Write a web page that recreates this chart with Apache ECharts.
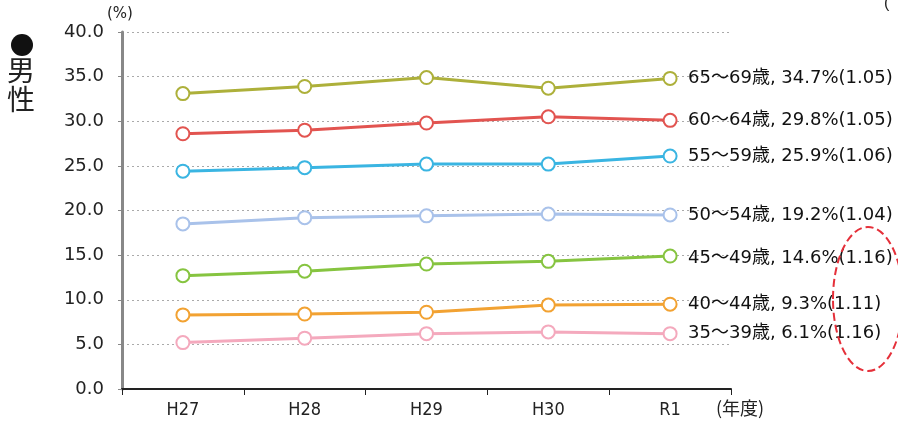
<!DOCTYPE html>
<html>
<head>
<meta charset="utf-8">
<script src="https://cdn.jsdelivr.net/npm/echarts@6/dist/echarts.min.js"></script>
<style>
html, body { margin: 0; padding: 0; background: #fff; }
#main { width: 898px; height: 428px; }
</style>
</head>
<body>
<div id="main"></div>
<script>
// 年度
var years = ['H27', 'H28', 'H29', 'H30', 'R1'];
var yTicks = [0, 5, 10, 15, 20, 25, 30, 35, 40];

// 年齢階級別の値 (%)
var age65 = [33.1, 33.9, 34.9, 33.7, 34.8];
var age60 = [28.6, 29.0, 29.8, 30.5, 30.1];
var age55 = [24.4, 24.8, 25.2, 25.2, 26.1];
var age50 = [18.5, 19.2, 19.4, 19.6, 19.5];
var age45 = [12.7, 13.2, 14.0, 14.3, 14.9];
var age40 = [8.3, 8.4, 8.6, 9.4, 9.5];
var age35 = [5.2, 5.7, 6.2, 6.4, 6.2];

// 右側のラベル
var endLabels = [
	'65～69歳, 34.7%(1.05)',
	'60～64歳, 29.8%(1.05)',
	'55～59歳, 25.9%(1.06)',
	'50～54歳, 19.2%(1.04)',
	'45～49歳, 14.6%(1.16)',
	'40～44歳, 9.3%(1.11)',
	'35～39歳, 6.1%(1.16)'
];

var myChart = echarts.init(document.getElementById('main'));

function makeSeries(name, data, color, labelText, offsetY) {
	return {
		name: name,
		type: 'line',
		data: data,
		symbol: 'circle',
		symbolSize: 13,
		lineStyle: { color: color, width: 3 },
		itemStyle: { color: '#fff', borderColor: color, borderWidth: 2 },
		label: { show: false },
		endLabel: {
			show: true,
			formatter: labelText,
			color: '#111',
			fontSize: 18,
			fontFamily: 'DejaVu Sans, Noto Sans CJK JP',
			distance: 18,
			offset: [0, offsetY]
		},
		animation: false,
		z: 3
	};
}

var option = {
	backgroundColor: '#fff',
	animation: false,
	grid: { left: 122, right: 167, top: 32, bottom: 39 },
	xAxis: {
		type: 'category',
		data: years,
		boundaryGap: true,
		axisLine: { lineStyle: { color: '#222', width: 2 } },
		axisTick: { show: true, inside: false, length: 6, lineStyle: { color: '#222' } },
		axisLabel: { color: '#222', fontSize: 18, fontFamily: 'DejaVu Sans Condensed, Liberation Sans', margin: 12 },
		splitLine: { show: false }
	},
	yAxis: {
		type: 'value',
		min: yTicks[0],
		max: yTicks[yTicks.length - 1],
		interval: 5,
		axisLine: { show: true, lineStyle: { color: '#888', width: 3 } },
		axisTick: { show: true, length: 4, lineStyle: { color: '#888' } },
		axisLabel: {
			color: '#222',
			fontSize: 18,
			fontFamily: 'DejaVu Sans',
			margin: 18,
			formatter: function(v) { return v.toFixed(1); }
		},
		splitLine: { show: true, lineStyle: { color: '#aaa', type: [2, 3], width: 1 } }
	},
	series: [
		makeSeries('65～69歳', age65, '#adb03a', endLabels[0], 0),
		makeSeries('60～64歳', age60, '#e25450', endLabels[1], 0),
		makeSeries('55～59歳', age55, '#3ab5e2', endLabels[2], 0),
		makeSeries('50～54歳', age50, '#a9c2ea', endLabels[3], 0),
		makeSeries('45～49歳', age45, '#86c440', endLabels[4], 2),
		makeSeries('40～44歳', age40, '#f2a232', endLabels[5], 0),
		makeSeries('35～39歳', age35, '#f4a9bd', endLabels[6], 0)
	],
	graphic: [
		{ type: 'text', left: 107, top: 7, style: { text: '(%)', fontSize: 15, fill: '#222', fontFamily: 'DejaVu Sans' } },
		{ type: 'text', left: 716, top: 399, style: { text: '(年度)', fontSize: 18, fill: '#222', fontFamily: 'Noto Sans CJK JP' } },
		{ type: 'circle', shape: { cx: 22, cy: 45, r: 11 }, style: { fill: '#111' } },
		{ type: 'text', left: 7, top: 56, style: { text: '男', fontSize: 28, fill: '#222', fontFamily: 'Noto Sans CJK JP' } },
		{ type: 'text', left: 7, top: 85, style: { text: '性', fontSize: 28, fill: '#222', fontFamily: 'Noto Sans CJK JP' } },
		{ type: 'text', left: 884, top: -4, style: { text: '(', fontSize: 16, fill: '#222' } },
		{
			type: 'ellipse',
			shape: { cx: 868, cy: 299, rx: 35, ry: 72 },
			style: { fill: 'none', stroke: '#e5303a', lineWidth: 2, lineDash: [8, 4] },
			z: 10
		}
	]
};

myChart.setOption(option);
</script>
</body>
</html>
